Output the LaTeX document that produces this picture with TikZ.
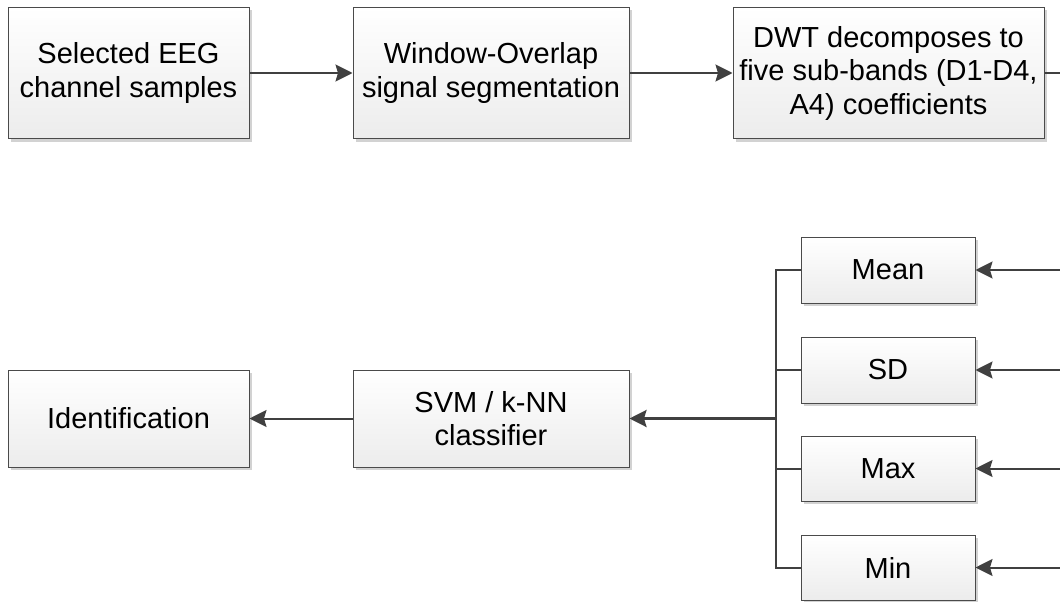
\documentclass[tikz,border=0pt]{standalone}
\usepackage{fontspec}
\setmainfont{Liberation Sans}
\usetikzlibrary{arrows.meta,shadows}
\definecolor{linegray}{HTML}{404040}
\definecolor{edgegray}{HTML}{4A4A4A}
\definecolor{shadegray}{HTML}{ECECEC}
\definecolor{shadowgray}{HTML}{D2D2D2}
\tikzset{
  blockbox/.style={draw=edgegray, line width=1pt, top color=white, bottom color=shadegray,
    drop shadow={shadow xshift=3pt, shadow yshift=-3pt, fill=shadowgray, opacity=1},
    align=center, inner sep=0pt, font=\fontsize{29}{33.5}\selectfont, text=black},
  flow/.style={draw=linegray, line width=2pt, -{Stealth[length=17pt,width=17pt,inset=2.5pt]}},
  wire/.style={draw=linegray, line width=2pt},
}
\begin{document}
\begin{tikzpicture}[x=1pt,y=-1pt]
\useasboundingbox (0,0) rectangle (1060,602);

% top row
\node[blockbox, minimum width=241pt, minimum height=131pt] (sel) at (128.5,73) {Selected EEG\\channel samples};
\node[blockbox, minimum width=276pt, minimum height=131pt] (seg) at (491,73) {Window-Overlap\\signal segmentation};
\node[blockbox, minimum width=311pt, minimum height=131pt] (dwt) at (888.5,73) {DWT decomposes to\\five sub-bands (D1-D4,\\A4) coefficients};

% feature boxes
\node[blockbox, minimum width=174pt, minimum height=66pt] (mean) at (888,270) {Mean};
\node[blockbox, minimum width=174pt, minimum height=66pt] (sd)   at (888,370) {SD};
\node[blockbox, minimum width=174pt, minimum height=65pt] (max)  at (888,468.5) {Max};
\node[blockbox, minimum width=174pt, minimum height=65pt] (min)  at (888,567.5) {Min};

% bottom row
\node[blockbox, minimum width=241pt, minimum height=97pt] (ident) at (128.5,418.5) {Identification};
\node[blockbox, minimum width=276pt, minimum height=97pt] (clf) at (491,418.5) {SVM / k-NN\\classifier};

% free ends at the right border
\coordinate (dwtout) at (1060,73);
\coordinate (inmean) at (1060,270);
\coordinate (insd)   at (1060,370);
\coordinate (inmax)  at (1060,468.5);
\coordinate (inmin)  at (1060,567.5);

% bus collecting the features
\coordinate (bustop) at (776,270);
\coordinate (busbot) at (776,567.5);
\coordinate (busmid) at (776,418.5);

\draw[flow] (sel) -- (seg);
\draw[flow] (seg) -- (dwt);
\draw[wire] (dwt.east) -- (dwtout);

\draw[flow] (inmean) -- (mean);
\draw[flow] (insd) -- (sd);
\draw[flow] (inmax) -- (max);
\draw[flow] (inmin) -- (min);

\draw[wire] (mean.west) -- (bustop) -- (busbot) -- (min.west);
\draw[wire] (sd.west) -- (sd.west -| bustop);
\draw[wire] (max.west) -- (max.west -| bustop);
\draw[flow, line width=2.6pt] (busmid) -- (clf);
\draw[flow] (clf) -- (ident);
\end{tikzpicture}
\end{document}
